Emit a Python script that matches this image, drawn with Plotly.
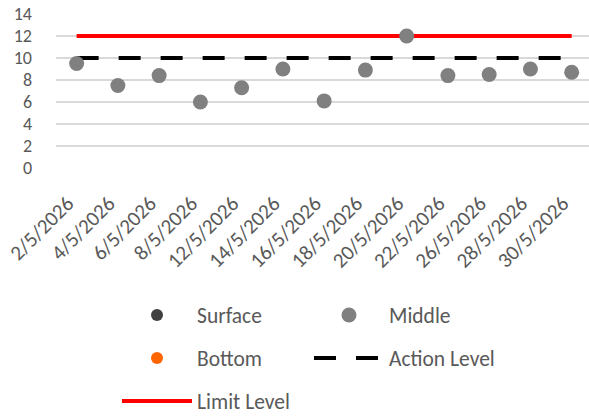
import plotly.graph_objects as go

dates = ["2/5/2026", "4/5/2026", "6/5/2026", "8/5/2026", "12/5/2026", "14/5/2026",
         "16/5/2026", "18/5/2026", "20/5/2026", "22/5/2026", "26/5/2026", "28/5/2026",
         "30/5/2026"]
surface = [None] * 13
middle = [9.5, 7.5, 8.4, 6.0, 7.3, 9.0, 6.1, 8.9, 12.0, 8.4, 8.5, 9.0, 8.7]
bottom = [None] * 13
action_level = [10] * 13
limit_level = [12] * 13
y_ticks = [0, 2, 4, 6, 8, 10, 12, 14]

FONT = "Calibri, Carlito, Lato, sans-serif"
TXT = "#595959"

fig = go.Figure()
fig.add_trace(go.Scatter(x=dates, y=limit_level, mode="lines", name="Limit Level",
                         line=dict(color="#FF0000", width=4), legend="legend3"))
fig.add_trace(go.Scatter(x=dates, y=action_level, mode="lines", name="Action Level",
                         line=dict(color="#000000", width=4, dash="22px,20px"), legend="legend2"))
fig.add_trace(go.Scatter(x=dates, y=surface, mode="markers", name="Surface",
                         marker=dict(color="#404040", size=12), legend="legend"))
fig.add_trace(go.Scatter(x=dates, y=middle, mode="markers", name="Middle",
                         marker=dict(color="#808080", size=15), legend="legend"))
fig.add_trace(go.Scatter(x=dates, y=bottom, mode="markers", name="Bottom",
                         marker=dict(color="#FF6600", size=12), legend="legend2"))

legcommon = dict(orientation="h", xref="container", yref="container", xanchor="left",
                 yanchor="middle", entrywidth=107, entrywidthmode="pixels",
                 itemwidth=70,
                 font=dict(family=FONT, size=21.5, color=TXT),
                 bgcolor="rgba(0,0,0,0)")

fig.update_layout(
    width=589, height=416,
    margin=dict(l=56, r=0, t=14, b=248, autoexpand=False),
    paper_bgcolor="white", plot_bgcolor="white",
    font=dict(family=FONT, color=TXT),
    showlegend=True,
    legend=dict(x=117 / 589, y=1 - 315 / 416, traceorder="normal", **legcommon),
    legend2=dict(x=117 / 589, y=1 - 358 / 416, traceorder="reversed", **legcommon),
    legend3=dict(x=117 / 589, y=1 - 401 / 416, traceorder="normal", **legcommon),
    xaxis=dict(type="category", range=[-0.5, 12.42], tickangle=-45, automargin=False,
               tickfont=dict(family=FONT, size=21, color=TXT), showgrid=False,
               showline=False, ticks="", zeroline=False, ticklabelstandoff=18,
               ticklabelshift=-9),
    yaxis=dict(range=[0, 14], tickvals=y_ticks, showgrid=True, gridcolor="#D9D9D9",
               gridwidth=1.5, zeroline=False, showline=False, ticks="", automargin=False,
               tickfont=dict(family=FONT, size=18, color=TXT), ticklabelstandoff=23),
)

fig.write_html("out.html", config={"displayModeBar": False},
               post_script="document.body.style.margin='0px';")
